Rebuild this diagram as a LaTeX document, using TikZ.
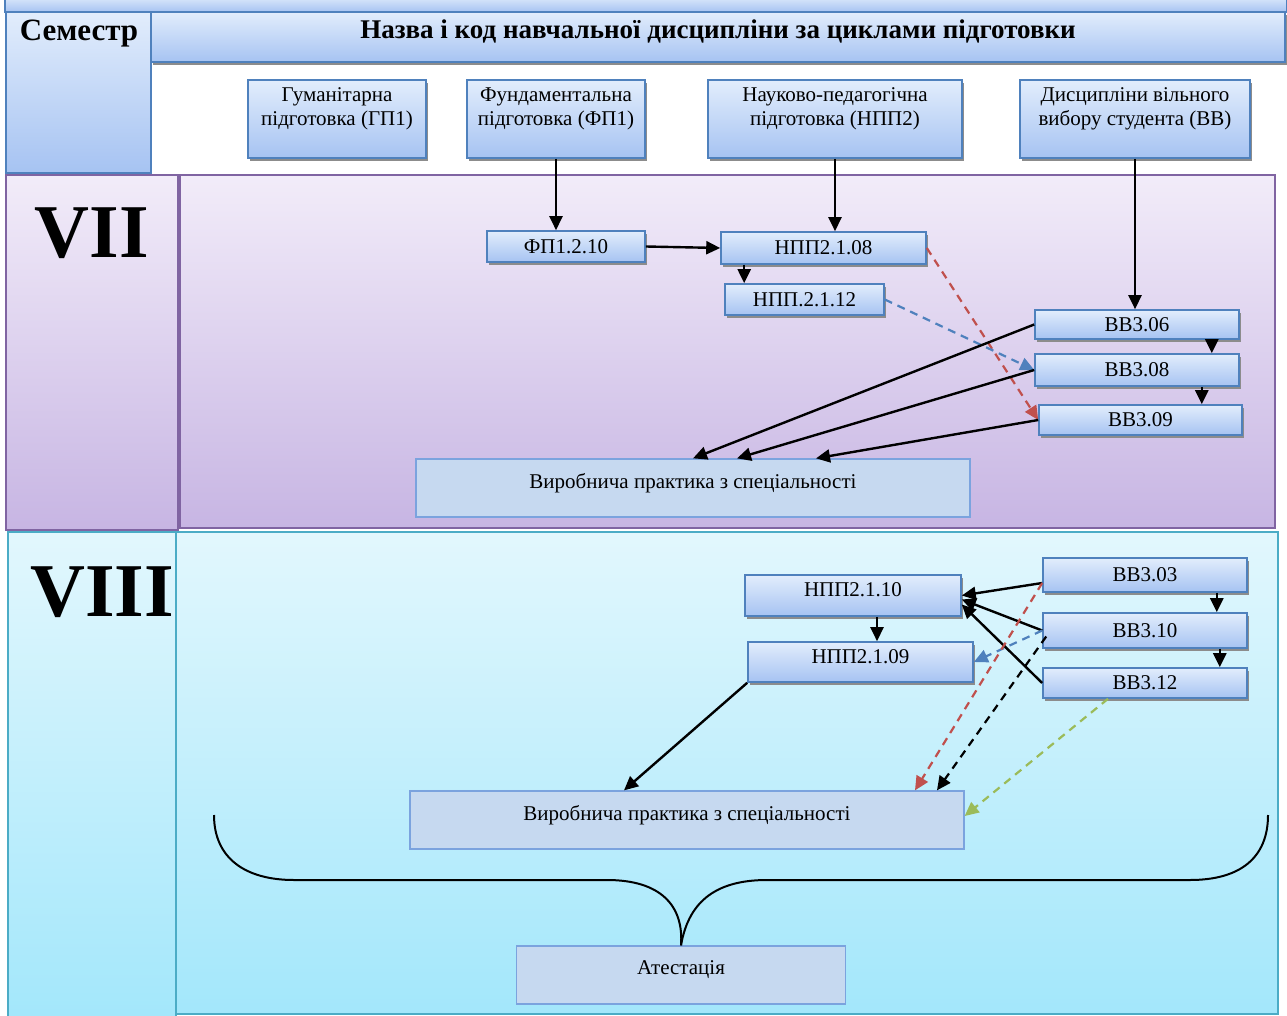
\documentclass[tikz,border=0pt]{standalone}
\usepackage{fontspec}
\setmainfont{Liberation Serif}
\usepackage{tikz}
\usetikzlibrary{arrows.meta, shadows}

\definecolor{boxline}{HTML}{4F81BD}
\definecolor{boxtop}{HTML}{E2EDFC}
\definecolor{boxbot}{HTML}{A6C3F2}
\definecolor{violetline}{HTML}{8064A2}
\definecolor{violettop}{HTML}{F2ECF9}
\definecolor{violetbot}{HTML}{C7B5E3}
\definecolor{aqualine}{HTML}{4BACC6}
\definecolor{aquatop}{HTML}{E2F7FD}
\definecolor{aquabot}{HTML}{A3E7FB}
\definecolor{practfill}{HTML}{C6D9F0}
\definecolor{practline}{HTML}{7BA3DE}
\definecolor{redarr}{HTML}{C0504D}
\definecolor{bluearr}{HTML}{4F81BD}
\definecolor{greenarr}{HTML}{9BBB59}

\begin{document}
\begin{tikzpicture}[x = 1pt, y = -1pt,
    cellblue/.style = {draw = boxline, line width = 2pt, top color = boxtop, bottom color = boxbot},
    cellviolet/.style = {draw = violetline, line width = 2pt, top color = violettop, bottom color = violetbot},
    cellaqua/.style = {draw = aqualine, line width = 2pt, top color = aquatop, bottom color = aquabot},
    shadowed/.style = {drop shadow = {shadow xshift = 2pt, shadow yshift = -3pt, fill = black!45, opacity = 1}},
    codebox/.style = {rectangle, draw = boxline, line width = 1.6pt, top color = boxtop, bottom color = boxbot, shadowed, inner sep = 0pt, font = \fontsize{21}{23}\selectfont},
    catbox/.style = {codebox, align = center, minimum height = 78pt, font = \fontsize{21}{24}\selectfont},
    practbox/.style = {rectangle, draw = practline, line width = 1.3pt, fill = practfill, inner sep = 0pt, minimum width = 554pt, minimum height = 58pt, font = \fontsize{21}{23}\selectfont},
    arr/.style = {-{Triangle[length = 14pt, width = 13pt]}, line width = 2.4pt},
    dasharr/.style = {arr, line width = 2.2pt, dash pattern = on 8pt off 6pt}]
\useasboundingbox (0, 0) rectangle (1287, 1016);
\fill[white] (0, 0) rectangle (1287, 1016);

% table head
\path[cellblue] (5, -5) rectangle (1287, 12);
\path[cellblue] (6, 12) rectangle (151, 173);
\path[cellblue, shadowed] (151, 12) rectangle (1285, 62);
\node[font = \bfseries\fontsize{31}{31}\selectfont] (sem) at (79, 34) {Семестр};
\node[font = \bfseries\fontsize{27}{27}\selectfont] (title) at (718, 31) {Назва і код навчальної дисципліни за циклами підготовки};

% semester cells
\path[cellviolet] (6, 175) rectangle (178, 530);
\path[cellviolet] (180, 175) rectangle (1275, 528);
\path[cellaqua] (8, 532) rectangle (176, 1020);
\path[cellaqua] (176, 532) rectangle (1278, 1014);
\node[font = \bfseries\fontsize{76}{76}\selectfont] (vii) at (92, 233) {VII};
\node[font = \bfseries\fontsize{76}{76}\selectfont] (viii) at (102, 592) {VIII};

% cycles
\node[catbox, minimum width = 178pt] (gp1) at (337, 119) {Гуманітарна\\підготовка (ГП1)\\[-7pt] \strut};
\node[catbox, minimum width = 178pt] (fp1) at (556, 119) {Фундаментальна\\підготовка (ФП1)\\[-7pt] \strut};
\node[catbox, minimum width = 254pt] (npp2) at (835, 119) {Науково-педагогічна\\підготовка (НПП2)\\[-7pt] \strut};
\node[catbox, minimum width = 230pt] (bbcat) at (1135, 119) {Дисципліни вільного\\вибору студента (ВВ)\\[-7pt] \strut};

% VII
\node[codebox, minimum width = 158pt, minimum height = 31pt] (fp1210) at (566, 246.5) {ФП1.2.10};
\node[codebox, minimum width = 205pt, minimum height = 32pt] (npp2108) at (823.5, 248) {НПП2.1.08};
\node[codebox, minimum width = 159pt, minimum height = 31pt] (npp2112) at (804.5, 299.5) {НПП.2.1.12};
\node[codebox, minimum width = 204pt, minimum height = 29pt] (bb306) at (1137, 324.5) {ВВ3.06};
\node[codebox, minimum width = 204pt, minimum height = 32pt] (bb308) at (1137, 370) {ВВ3.08};
\node[codebox, minimum width = 203pt, minimum height = 30pt] (bb309) at (1140.5, 420) {ВВ3.09};
\node[practbox, text depth = 14pt] (vp7) at (693, 488) {Виробнича практика з спеціальності};

\draw[arr] (fp1.south) -- (fp1.south |- fp1210.north);
\draw[arr] (npp2.south) -- (npp2.south |- npp2108.north);
\draw[arr] (bbcat.south) -- (bbcat.south |- bb306.north);
\draw[arr] (fp1210.east) -- (npp2108.west);
\draw[arr] ([xshift = 24pt]npp2108.south west) -- ([xshift = 24pt]npp2108.south west |- npp2112.north);
\draw[arr] ([xshift = -28pt]bb306.south east) -- ([xshift = -28pt]bb306.south east |- bb308.north);
\draw[arr] ([xshift = -38pt]bb308.south east) -- ([xshift = -38pt]bb308.south east |- bb309.north);
\draw[dasharr, color = redarr] (npp2108.east) -- (bb309.west);
\draw[dasharr, color = bluearr] (npp2112.east) -- (bb308.west);
\draw[arr] (bb306.west) -- (vp7.north);
\draw[arr] (bb308.west) -- ([xshift = 44pt]vp7.north);
\draw[arr] (bb309.west) -- ([xshift = 123pt]vp7.north);

% VIII
\node[codebox, minimum width = 216pt, minimum height = 41pt, text depth = 11pt] (npp2110) at (853, 595.5) {НПП2.1.10};
\node[codebox, minimum width = 225pt, minimum height = 40pt, text depth = 11pt] (npp2109) at (860.5, 662) {НПП2.1.09};
\node[codebox, minimum width = 204pt, minimum height = 34pt] (bb303) at (1145, 575) {ВВ3.03};
\node[codebox, minimum width = 204pt, minimum height = 35pt] (bb310) at (1145, 630.5) {ВВ3.10};
\node[codebox, minimum width = 204pt, minimum height = 30pt] (bb312) at (1145, 683) {ВВ3.12};
\node[practbox, text depth = 14pt] (vp8) at (687, 820) {Виробнича практика з спеціальності};
\node[practbox, text depth = 14pt, minimum width = 329pt] (att) at (681, 975) {Атестація};

\draw[arr] ([xshift = 24pt]npp2110.south) -- ([xshift = 24pt]npp2110.south |- npp2109.north);
\draw[arr] ([xshift = -31pt]bb303.south east) -- ([xshift = -31pt]bb303.south east |- bb310.north);
\draw[arr] ([xshift = -28pt]bb310.south east) -- ([xshift = -28pt]bb310.south east |- bb312.north);
\draw[arr] ([yshift = -8pt]bb303.west) -- (npp2110.east);
\draw[arr] (bb310.west) -- ([yshift = -4pt]npp2110.east);
\draw[arr] (bb312.west) -- ([yshift = -9pt]npp2110.east);
\draw[dasharr, color = bluearr] (bb310.west) -- (npp2109.east);
\draw[dasharr, color = redarr] ([yshift = -8pt]bb303.west) -- ([xshift = 228pt]vp8.north);
\draw[dasharr, color = black] ([xshift = 4pt, yshift = -6pt]bb310.west) -- ([xshift = 250pt]vp8.north);
\draw[dasharr, color = greenarr] ([xshift = -37pt]bb312.south) -- ([yshift = 4pt]vp8.east);
\draw[arr] (npp2109.south west) -- ([xshift = -63pt]vp8.north);

% brace
\draw[line width = 2pt] (214, 815) .. controls (214, 858) and (245, 880) .. (294, 880) -- (607, 880) .. controls (660, 880) and (684, 905) .. (att.north);
\draw[line width = 2pt] (att.north) .. controls (688, 905) and (712, 880) .. (767, 880) -- (1190, 880) .. controls (1240, 880) and (1268, 858) .. (1268, 815);
\end{tikzpicture}
\end{document}
